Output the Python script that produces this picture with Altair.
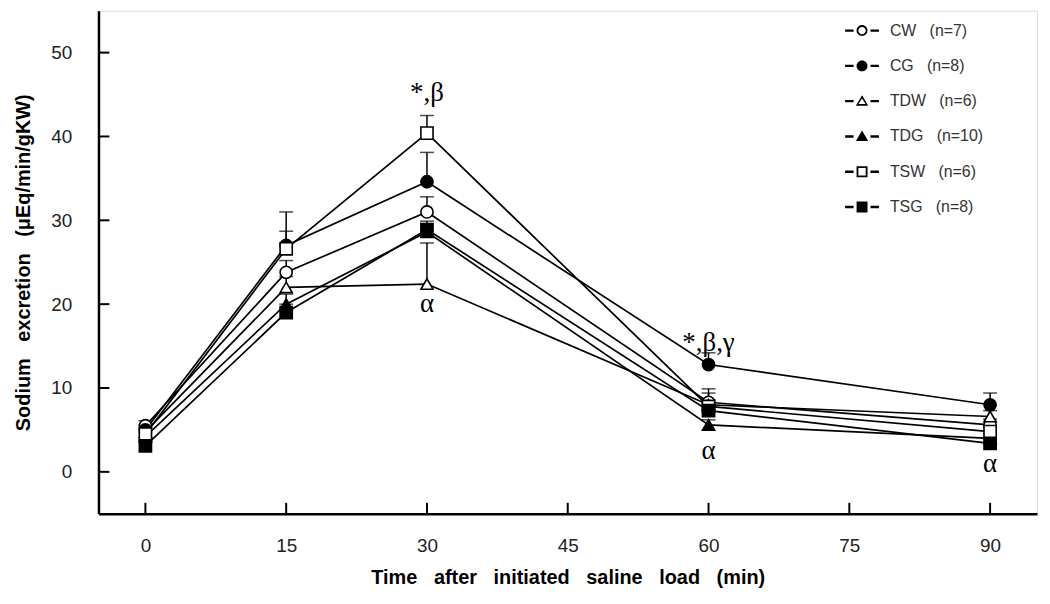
import altair as alt
import pandas as pd

# ---- data ----
series = ["CW", "CG", "TDW", "TDG", "TSW", "TSG"]
n_values = [7, 8, 6, 10, 6, 8]
times = [0, 15, 30, 60, 90]

means = {
    "CW":  [5.5, 23.8, 31.0, 8.3, 5.6],
    "CG":  [5.0, 27.0, 34.6, 12.8, 8.0],
    "TDW": [4.8, 22.0, 22.4, 8.0, 6.6],
    "TDG": [4.2, 20.0, 28.6, 5.6, 4.0],
    "TSW": [4.5, 26.6, 40.4, 7.8, 4.8],
    "TSG": [3.1, 19.0, 28.9, 7.3, 3.4],
}
errors = {
    "CW":  [0.6, 1.4, 1.8, 1.6, 0.7],
    "CG":  [0.6, 4.0, 3.5, 1.4, 1.4],
    "TDW": [0.5, 1.3, 4.9, 1.4, 0.7],
    "TDG": [0.5, 1.2, 1.0, 0.6, 0.5],
    "TSW": [0.6, 2.1, 2.1, 0.8, 0.6],
    "TSG": [0.5, 1.0, 1.0, 0.8, 0.5],
}

marker_shapes = ["circle", "circle", "triangle-up", "triangle-up", "square", "square"]
marker_fills = ["white", "black", "white", "black", "white", "black"]

ann_text = ["*,β", "α", "*,β,γ", "α", "α"]
ann_x = [30, 30, 60, 60, 90]
ann_y = [45.2, 20.0, 15.4, 2.5, 0.9]

x_ticks = [0, 15, 30, 45, 60, 75, 90]
y_ticks = [0, 10, 20, 30, 40, 50]

# ---- tables ----
labels = [f"{s}\u00a0\u00a0\u00a0(n={n})" for s, n in zip(series, n_values)]
rows = []
for s, lab in zip(series, labels):
    for t, m, e in zip(times, means[s], errors[s]):
        rows.append({"series": lab, "time": t, "value": m, "upper": m + e})
df = pd.DataFrame(rows)
ann = pd.DataFrame({"text": ann_text, "time": ann_x, "value": ann_y})
xt = pd.DataFrame({"time": x_ticks})
yt = pd.DataFrame({"value": y_ticks})

W, H = 944, 506

xscale = alt.Scale(domain=[-5, 95], nice=False, zero=False)
yscale = alt.Scale(domain=[-5, 55], nice=False, zero=False)

title_sp = "\u00a0\u00a0\u00a0"
x_axis = alt.Axis(values=x_ticks, ticks=False, tickSize=0, grid=False,
                  domainColor="black", domainWidth=2.5,
                  labelFont="Liberation Sans", labelFontSize=19, labelColor="#222",
                  labelPadding=23,
                  title=title_sp.join("Time after initiated saline load (min)".split(" ")),
                  titleFont="Liberation Sans", titleFontSize=20, titleFontWeight="bold",
                  titleColor="black", titlePadding=12)
y_axis = alt.Axis(values=y_ticks, ticks=False, tickSize=0, grid=False,
                  domainColor="black", domainWidth=2.5,
                  labelFont="Liberation Sans", labelFontSize=19, labelColor="#222",
                  labelPadding=27,
                  title=title_sp.join("Sodium excretion (μEq/min/gKW)".split(" ")),
                  titleFont="Liberation Sans", titleFontSize=20, titleFontWeight="bold",
                  titleColor="black", titlePadding=17)

X = alt.X("time:Q", scale=xscale, axis=x_axis)
Y = alt.Y("value:Q", scale=yscale, axis=y_axis)

base = alt.Chart(df)

lines = base.mark_line(color="black", strokeWidth=1.7).encode(
    x=X, y=Y, detail="series:N")

err = base.mark_rule(color="black", strokeWidth=1.5).encode(
    x="time:Q", y="value:Q", y2="upper:Q")
caps = base.mark_tick(orient="horizontal", color="black", size=14, thickness=1.5).encode(
    x="time:Q", y="upper:Q")

points = base.mark_point(stroke="black", strokeWidth=1.6, opacity=1, fillOpacity=1).encode(
    x="time:Q", y="value:Q",
    shape=alt.Shape("series:N", scale=alt.Scale(domain=labels, range=marker_shapes), legend=None),
    fill=alt.Fill("series:N", scale=alt.Scale(domain=labels, range=marker_fills), legend=None),
    size=alt.Size("series:N", scale=alt.Scale(domain=labels, range=[150, 150, 150, 150, 175, 175]), legend=None),
)

texts = alt.Chart(ann).mark_text(font="Liberation Serif", fontSize=27, color="black",
                                 align="center", baseline="middle").encode(
    x="time:Q", y="value:Q", text="text:N")

xtick_rules = alt.Chart(xt).mark_rule(color="black", strokeWidth=2).encode(
    x="time:Q", y=alt.value(H), y2=alt.value(H - 11))
ytick_rules = alt.Chart(yt).mark_rule(color="black", strokeWidth=2).encode(
    y="value:Q", x=alt.value(0), x2=alt.value(11))

# legend symbols: dash-marker-dash paths, filled black
dash = "M-1.7,-0.12H-0.85V0.12H-1.7Z M0.85,-0.12H1.7V0.12H0.85Z "
circ_o = "M-0.55,0A0.55,0.55 0 1,1 0.55,0A0.55,0.55 0 1,1 -0.55,0Z M-0.37,0A0.37,0.37 0 1,0 0.37,0A0.37,0.37 0 1,0 -0.37,0Z"
circ_f = "M-0.55,0A0.55,0.55 0 1,1 0.55,0A0.55,0.55 0 1,1 -0.55,0Z"
tri_o = "M0,-0.6L0.62,0.45L-0.62,0.45Z M0,-0.28L-0.36,0.29L0.36,0.29Z"
tri_f = "M0,-0.6L0.62,0.45L-0.62,0.45Z"
sq_o = "M-0.55,-0.55H0.55V0.55H-0.55Z M-0.37,-0.37V0.37H0.37V-0.37Z"
sq_f = "M-0.55,-0.55H0.55V0.55H-0.55Z"
legend_paths = [dash + p for p in [circ_o, circ_f, tri_o, tri_f, sq_o, sq_f]]

legend_layer = base.mark_point(filled=True, color="black", opacity=0).encode(
    x="time:Q", y="value:Q",
    shape=alt.Shape("series:N", scale=alt.Scale(domain=labels, range=legend_paths),
                    legend=alt.Legend(orient="none", legendX=758, legendY=10, title=None,
                                      symbolSize=400, symbolStrokeWidth=0, symbolOpacity=1,
                                      symbolFillColor="black",
                                      labelFont="Liberation Sans", labelFontSize=16,
                                      labelColor="#333", labelOffset=18, rowPadding=17.5,
                                      padding=0)),
)

chart = alt.layer(lines, err, caps, points, texts, xtick_rules, ytick_rules, legend_layer).resolve_scale(
    shape="independent"
).properties(
    width=W, height=H,
    autosize=alt.AutoSizeParams(type="none"),
    padding={"left": 91, "top": 1, "right": 5, "bottom": 85},
).configure_view(strokeWidth=0).configure(background="white")

chart.save("out.html", embed_options={"renderer": "svg", "actions": False})
